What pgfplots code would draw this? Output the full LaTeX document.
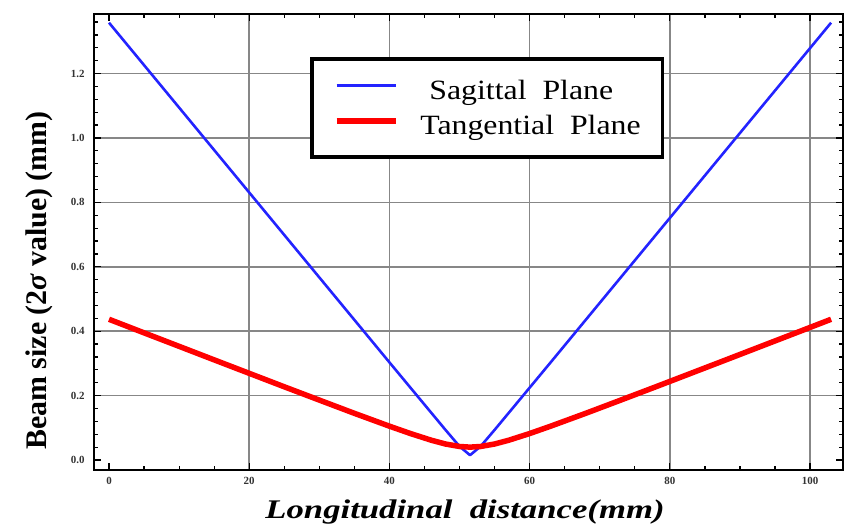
\documentclass[border=0pt]{standalone}
\usepackage{fontspec}
\setmainfont{Liberation Serif}
\usepackage{graphicx}
\usepackage{pgfplots}
\pgfplotsset{compat=1.18}

\definecolor{sagblue}{RGB}{35,35,255}
\definecolor{tanred}{RGB}{255,0,0}
\definecolor{gridgray}{RGB}{135,135,135}

\begin{document}
\begin{tikzpicture}
\path[use as bounding box] (0,0) rectangle (845bp,528bp);
\begin{axis}[
  at={(94bp,58bp)}, anchor=south west,
  scale only axis, width=749bp, height=456bp,
  xmin=-2.14, xmax=104.7, ymin=-0.031, ymax=1.385,
  xtick={20,40,60,80,100},
  xticklabels={20,40,60,80,100},
  extra x ticks={0}, extra x tick labels={0},
  ytick={0.2,0.4,0.6,0.8,1.0,1.2},
  yticklabels={0.2,0.4,0.6,0.8,1.0,1.2},
  extra y ticks={0}, extra y tick labels={0.0},
  extra x tick style={grid=none},
  extra y tick style={grid=none},
  minor xtick={0,5,...,100},
  minor ytick={0,0.04,...,1.37},
  grid=major,
  grid style={gridgray, line width=1.7bp},
  major tick length=7bp, minor tick length=4bp,
  every tick/.style={black, line width=1.2bp},
  axis line style={black, line width=1.7bp},
  /pgf/number format/assume math mode=true,
  tick label style={font=\fontsize{11}{12}\selectfont\bfseries, text=black!80},
  xticklabel style={yshift=-4bp},
  yticklabel style={xshift=-6bp},
  xlabel={\scalebox{1.29}[1]{Longitudinal\ \ distance(mm)}},
  xlabel style={at={(axis description cs:0.4953,-0.1053)}, anchor=base,
    font=\fontsize{27}{30}\selectfont\bfseries\itshape},
  ylabel={Beam size (2{\itshape σ} value) (mm)},
  ylabel style={at={(axis description cs:-0.0628,0.4156)}, anchor=base,
    font=\fontsize{30}{32}\selectfont\bfseries},
  legend cell align=left,
  legend image code/.code={\draw[#1] (0bp,4.5bp) -- (59bp,4.5bp);},
  legend style={at={(0.2884,0.9057)}, anchor=north west,
    draw=black, line width=3.6bp,
    inner xsep=22bp, inner ysep=16bp,
    font=\fontsize{28}{30}\selectfont,
    nodes={inner sep=0bp, text height=25bp, text depth=6bp},
    row sep=4bp,
    /tikz/every odd column/.append style={column sep=22bp}},
]
% Sagittal plane beam size
\addplot[sagblue, line width=2.6bp, line join=round] coordinates {
  (0,1.358) (10,1.0944) (20,0.8307) (30,0.5670) (40,0.3033)
  (45,0.1721) (48,0.0935) (50,0.0423) (51.5,0.015) (53,0.0423)
  (55,0.0935) (58,0.1721) (63,0.3033) (73,0.5670) (83,0.8307)
  (93,1.0944) (103,1.358)
};
\addlegendentry{\scalebox{1.14}[1]{\hspace{8bp}Sagittal\ \ Plane}}
% Tangential plane beam size
\addplot[tanred, line width=5.5bp, line join=round] coordinates {
  (0,0.437) (5,0.3949) (10,0.3530) (15,0.3110) (20,0.2692)
  (25,0.2274) (30,0.1861) (35,0.1450) (40,0.1051) (43,0.0822)
  (46,0.0613) (48,0.0497) (50,0.0420) (51.5,0.040) (53,0.0420)
  (55,0.0497) (57,0.0613) (60,0.0822) (63,0.1051) (68,0.1450)
  (73,0.1861) (78,0.2274) (83,0.2692) (88,0.3110) (93,0.3530)
  (98,0.3949) (103,0.437)
};
\addlegendentry{\scalebox{1.14}[1]{Tangential\ \ Plane}}
\end{axis}
\end{tikzpicture}
\end{document}
